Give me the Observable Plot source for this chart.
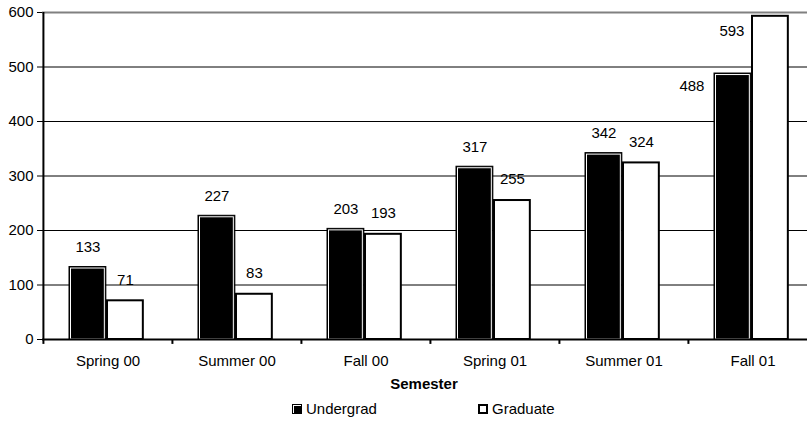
<!DOCTYPE html>
<html>
<head>
<meta charset="utf-8">
<script src="https://cdn.jsdelivr.net/npm/d3@7"></script>
<script src="https://cdn.jsdelivr.net/npm/@observablehq/plot@0.6"></script>
<style>
  html, body { margin: 0; padding: 0; background: #fff; }
  body { width: 807px; height: 423px; overflow: hidden; position: relative; font-family: "Liberation Sans", Arial, sans-serif; }
  #legend { position: absolute; top: 400px; left: 0; width: 807px; height: 18px; font-size: 15px; color: #000; }
  .item { position: absolute; top: 0; display: flex; align-items: center; gap: 4px; line-height: 18px; }
  .sw { width: 10px; height: 10px; box-sizing: border-box; }
  .sw.ug { background: #000; border: 1px solid #000; box-shadow: inset 1px 1px 0 #fff; }
  .sw.gr { background: #fff; border: 2px solid #000; }
</style>
</head>
<body>
<div id="chart"></div>
<div id="legend">
  <div class="item" style="left:292px"><span class="sw ug"></span><span>Undergrad</span></div>
  <div class="item" style="left:478px"><span class="sw gr"></span><span>Graduate</span></div>
</div>
<script>
const semesters = ["Spring 00", "Summer 00", "Fall 00", "Spring 01", "Summer 01", "Fall 01"];
const undergrad = [133, 227, 203, 317, 342, 488];
const graduate = [71, 83, 193, 255, 324, 593];
const yTicks = [0, 100, 200, 300, 400, 500, 600];
const seriesNames = ["Undergrad", "Graduate"];

const ugRows = semesters.map((s, i) => ({semester: s, series: seriesNames[0], value: undergrad[i]}));
const grRows = semesters.map((s, i) => ({semester: s, series: seriesNames[1], value: graduate[i]}));

const W = 807, H = 395, mL = 42, mR = -10, mT = 12, mB = 56;
const step = (W - mR - mL) / semesters.length;
const barW = 37;
const ugOff = 26, grOff = 64;
const ugInset = {insetLeft: ugOff, insetRight: step - ugOff - barW};
const grInset = {insetLeft: grOff, insetRight: step - grOff - barW + 1};
const ugCenter = ugOff + barW / 2 - step / 2;
const grCenter = grOff + (barW - 1) / 2 - step / 2;
const high = d => d.value >= 450;
const low = d => d.value < 450;

const chart = Plot.plot({
  width: W, height: H,
  marginLeft: mL, marginRight: mR, marginTop: mT, marginBottom: mB,
  style: {fontFamily: "'Liberation Sans', Arial, sans-serif", fontSize: "15px", color: "#000", background: "#fff", overflow: "hidden"},
  x: {type: "band", domain: semesters, padding: 0, tickSize: 0, tickPadding: 16, label: null},
  y: {domain: [0, 600], ticks: yTicks, tickSize: 5, tickPadding: 4, tickFormat: d => String(d), label: null},
  marks: [
    Plot.ruleY(yTicks.filter(v => v > 0 && v < 600), {stroke: "#000", strokeWidth: 1}),
    Plot.ruleY([600], {stroke: "#808080", strokeWidth: 2}),
    Plot.barY(ugRows, {x: "semester", y: "value", fill: "#000", stroke: "#000", strokeWidth: 1, ...ugInset}),
    Plot.barY(ugRows, {x: "semester", y: "value", fill: "none", stroke: "#fff", strokeWidth: 1,
      insetLeft: ugOff + 1.5, insetRight: step - ugOff - barW + 1.5, insetTop: 1.5}),
    Plot.barY(grRows, {x: "semester", y: "value", fill: "#fff", stroke: "#000", strokeWidth: 2, ...grInset}),
    Plot.ruleY([0], {stroke: "#000", strokeWidth: 2}),
    Plot.ruleX([semesters[0]], {x: d => d, dx: -step / 2, y1: 0, y2: 600, stroke: "#000", strokeWidth: 2}),
    Plot.ruleX(semesters, {x: d => d, dx: -step / 2, y1: 0, y2: -9, stroke: "#000", strokeWidth: 2}),
    Plot.text(ugRows.filter(low), {x: "semester", y: "value", text: d => String(d.value), dx: ugCenter, dy: -20, fill: "#000"}),
    Plot.text(grRows.filter(low), {x: "semester", y: "value", text: d => String(d.value), dx: grCenter, dy: -21, fill: "#000"}),
    Plot.text(ugRows.filter(high), {x: "semester", y: "value", text: d => String(d.value), dx: ugOff - step / 2 - 10, dy: 13, textAnchor: "end", fill: "#000"}),
    Plot.text(grRows.filter(high), {x: "semester", y: "value", text: d => String(d.value), dx: grOff - step / 2 - 8, dy: 15, textAnchor: "end", fill: "#000"}),
    Plot.text(["Semester"], {text: d => d, frameAnchor: "bottom", dx: -6, dy: 49, fontWeight: "bold", fill: "#000"})
  ]
});
document.getElementById("chart").appendChild(chart);
</script>
</body>
</html>
